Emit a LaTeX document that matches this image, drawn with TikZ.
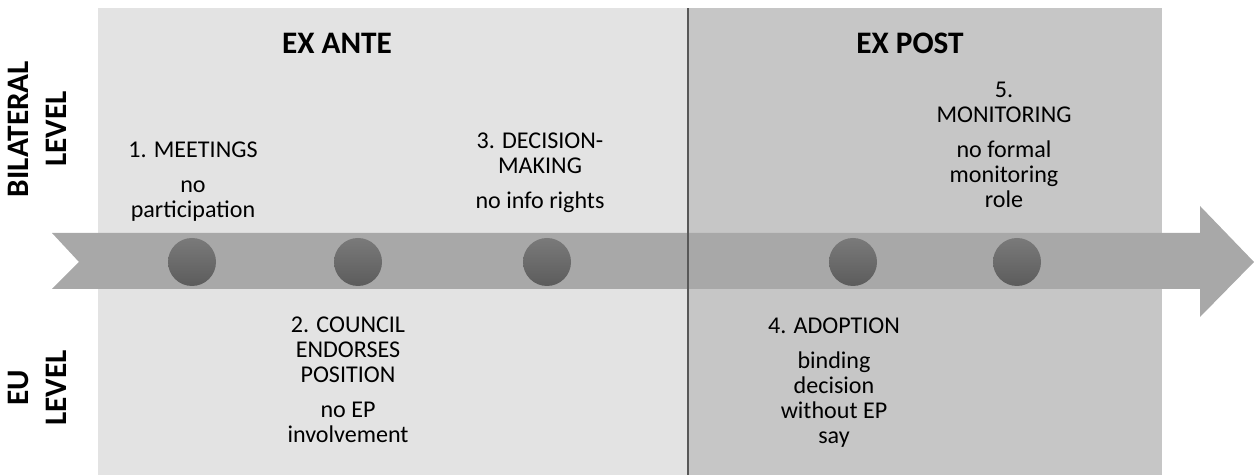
\documentclass[tikz,border=0pt]{standalone}
\usepackage{fontspec}
\setmainfont{Carlito}
\definecolor{antegray}{RGB}{227,227,227}
\definecolor{postgray}{RGB}{198,198,198}
\definecolor{bandgray}{RGB}{168,168,168}
\definecolor{dottop}{RGB}{122,122,122}
\definecolor{dotbottom}{RGB}{92,92,92}
\definecolor{linegray}{RGB}{88,88,88}

\begin{document}
\begin{tikzpicture}[
  stage/.style={font={\fontsize{13.7}{14.2}\selectfont},align=center,inner sep=0pt,anchor=north},
  head/.style={font={\fontsize{17.8}{21.5}\selectfont\bfseries},align=center,inner sep=0pt},
  dot/.style={circle,minimum size=0.96cm,inner sep=0pt,top color=dottop,bottom color=dotbottom}
]
\useasboundingbox (0,0) rectangle (25.08,9.5);

\fill[antegray] (1.96,0) rectangle (13.76,9.34);
\fill[postgray] (13.76,0) rectangle (23.24,9.34);

\fill[bandgray] (1.04,4.84) -- (24.0,4.84) -- (24.0,5.38) -- (25.08,4.26) -- (24.0,3.16) -- (24.0,3.72) -- (1.04,3.72) -- (1.58,4.26) -- cycle;

\draw[linegray,line width=1.1pt] (13.76,0) -- (13.76,9.34);

\node[dot] (s1) at (3.84,4.26) {};
\node[dot] (s2) at (7.16,4.26) {};
\node[dot] (s3) at (10.94,4.26) {};
\node[dot] (s4) at (17.06,4.26) {};
\node[dot] (s5) at (20.34,4.26) {};

\node[head,anchor=base] (ante) at (6.74,8.42) {EX ANTE};
\node[head,anchor=base] (post) at (18.2,8.42) {EX POST};
\node[head,rotate=90] (bilateral) at (0.74,6.92) {BILATERAL\\LEVEL};
\node[head,rotate=90] (eu) at (0.74,1.74) {EU\\LEVEL};

\node[stage] (t1) at (3.86,6.66) {1. MEETINGS\\[5.7pt]no\\participation};
\node[stage] (t2) at (6.96,3.16) {2. COUNCIL\\ENDORSES\\POSITION\\[5.7pt]no EP\\involvement};
\node[stage] (t3) at (10.8,6.84) {3. DECISION-\\MAKING\\[5.7pt]no info rights};
\node[stage] (t4) at (16.68,3.14) {4. ADOPTION\\[5.7pt]binding\\decision\\without EP\\say};
\node[stage] (t5) at (20.08,7.86) {5.\\MONITORING\\[5.7pt]no formal\\monitoring\\role};

\end{tikzpicture}
\end{document}
